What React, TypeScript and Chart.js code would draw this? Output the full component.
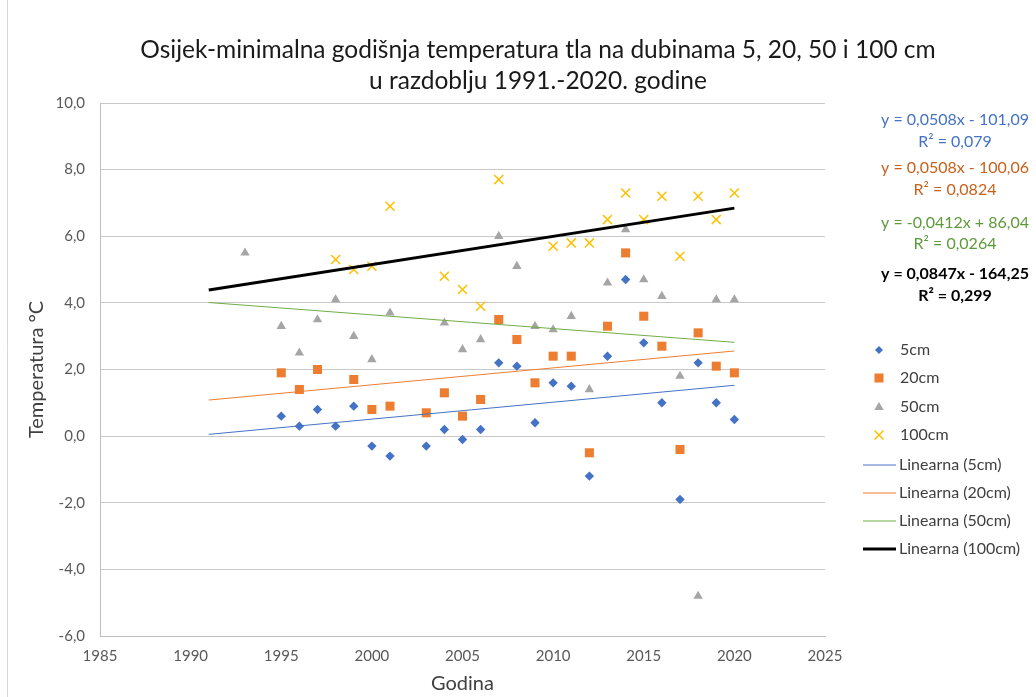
import React, { useEffect, useRef } from 'react';
import { Chart, registerables } from 'chart.js';

Chart.register(...registerables);

const FONT = 'Lato, "Open Sans", sans-serif';

const titleLines = [
  'Osijek-minimalna godišnja temperatura tla na dubinama 5, 20, 50 i 100 cm',
  'u razdoblju 1991.-2020. godine',
];

const years5 = [1995, 1996, 1997, 1998, 1999, 2000, 2001, 2003, 2004, 2005, 2006, 2007, 2008, 2009, 2010, 2011, 2012, 2013, 2014, 2015, 2016, 2017, 2018, 2019, 2020];
const values5 = [0.6, 0.3, 0.8, 0.3, 0.9, -0.3, -0.6, -0.3, 0.2, -0.1, 0.2, 2.2, 2.1, 0.4, 1.6, 1.5, -1.2, 2.4, 4.7, 2.8, 1.0, -1.9, 2.2, 1.0, 0.5];

const years20 = [1995, 1996, 1997, 1999, 2000, 2001, 2003, 2004, 2005, 2006, 2007, 2008, 2009, 2010, 2011, 2012, 2013, 2014, 2015, 2016, 2017, 2018, 2019, 2020];
const values20 = [1.9, 1.4, 2.0, 1.7, 0.8, 0.9, 0.7, 1.3, 0.6, 1.1, 3.5, 2.9, 1.6, 2.4, 2.4, -0.5, 3.3, 5.5, 3.6, 2.7, -0.4, 3.1, 2.1, 1.9];

const years50 = [1993, 1995, 1996, 1997, 1998, 1999, 2000, 2001, 2004, 2005, 2006, 2007, 2008, 2009, 2010, 2011, 2012, 2013, 2014, 2015, 2016, 2017, 2018, 2019, 2020];
const values50 = [5.5, 3.3, 2.5, 3.5, 4.1, 3.0, 2.3, 3.7, 3.4, 2.6, 2.9, 6.0, 5.1, 3.3, 3.2, 3.6, 1.4, 4.6, 6.2, 4.7, 4.2, 1.8, -4.8, 4.1, 4.1];

const years100 = [1998, 1999, 2000, 2001, 2004, 2005, 2006, 2007, 2010, 2011, 2012, 2013, 2014, 2015, 2016, 2017, 2018, 2019, 2020];
const values100 = [5.3, 5.0, 5.1, 6.9, 4.8, 4.4, 3.9, 7.7, 5.7, 5.8, 5.8, 6.5, 7.3, 6.5, 7.2, 5.4, 7.2, 6.5, 7.3];

const seriesNames = ['5cm', '20cm', '50cm', '100cm'];
const trendNames = ['Linearna (5cm)', 'Linearna (20cm)', 'Linearna (50cm)', 'Linearna (100cm)'];
const trendSlopes = [0.0508, 0.0508, -0.0412, 0.0847];
const trendIntercepts = [-101.09, -100.06, 86.04, -164.25];
const trendStart = 1991;
const trendEnd = 2020;
const equationLines = [
  ['y = 0,0508x - 101,09', 'R² = 0,079'],
  ['y = 0,0508x - 100,06', 'R² = 0,0824'],
  ['y = -0,0412x + 86,04', 'R² = 0,0264'],
  ['y = 0,0847x - 164,25', 'R² = 0,299'],
];

const xTicks = { min: 1985, max: 2025, step: 5 };
const yTicks = { min: -6, max: 10, step: 2 };

const markerColors = ['#4472C4', '#ED7D31', '#A5A5A5', '#FFC000'];
const trendColors = ['#4472C4', '#ED7D31', '#70AD47', '#000000'];
const trendWidths = [1, 1, 1, 3];
const eqColors = ['#4472C4', '#C9611B', '#5E9A3A', '#000000'];
const pointStyles = ['rectRot', 'rect', 'triangle', 'crossRot'];
const pointRadii = [4.7, 6.4, 5.4, 6.4];

function drawMarker(ctx: CanvasRenderingContext2D, i: number, x: number, y: number) {
  const c = markerColors[i];
  ctx.save();
  ctx.fillStyle = c;
  ctx.strokeStyle = c;
  if (i === 0) {
    const s = 4;
    ctx.beginPath();
    ctx.moveTo(x - s, y); ctx.lineTo(x, y - s); ctx.lineTo(x + s, y); ctx.lineTo(x, y + s);
    ctx.closePath(); ctx.fill();
  } else if (i === 1) {
    ctx.fillRect(x - 4.5, y - 4.5, 9, 9);
  } else if (i === 2) {
    ctx.beginPath();
    ctx.moveTo(x, y - 5); ctx.lineTo(x + 4.7, y + 3); ctx.lineTo(x - 4.7, y + 3);
    ctx.closePath(); ctx.fill();
  } else {
    ctx.lineWidth = 1.5;
    ctx.beginPath();
    ctx.moveTo(x - 4.5, y - 4.5); ctx.lineTo(x + 4.5, y + 4.5);
    ctx.moveTo(x + 4.5, y - 4.5); ctx.lineTo(x - 4.5, y + 4.5);
    ctx.stroke();
  }
  ctx.restore();
}

const decor = {
  id: 'decor',
  afterDraw(chart: any) {
    const ctx: CanvasRenderingContext2D = chart.ctx;
    ctx.save();
    // outer frame line
    ctx.strokeStyle = '#d9d9d9';
    ctx.lineWidth = 1;
    ctx.beginPath();
    ctx.moveTo(7.5, 0); ctx.lineTo(7.5, 697);
    ctx.stroke();

    // title
    ctx.fillStyle = '#1a1a1a';
    ctx.textAlign = 'center';
    ctx.textBaseline = 'middle';
    ctx.font = `24.5px ${FONT}`;
    ctx.fillText(titleLines[0], 538, 50);
    ctx.fillText(titleLines[1], 538, 81);

    // equations
    const eqY = [[120, 142], [168, 190], [223, 244], [274, 296]];
    equationLines.forEach((lines, i) => {
      ctx.fillStyle = eqColors[i];
      ctx.font = `${i === 3 ? 'bold ' : ''}16px ${FONT}`;
      ctx.fillText(lines[0], 955, eqY[i][0]);
      ctx.fillText(lines[1], 955, eqY[i][1]);
    });

    // legend
    const rows = [350, 378, 407, 435, 465, 493, 521, 549];
    ctx.textAlign = 'left';
    ctx.font = `16px ${FONT}`;
    seriesNames.forEach((n, i) => {
      drawMarker(ctx, i, 879, rows[i]);
      ctx.fillStyle = '#404040';
      ctx.fillText(n, 900, rows[i]);
    });
    trendNames.forEach((n, i) => {
      const y = rows[4 + i];
      ctx.strokeStyle = trendColors[i];
      ctx.lineWidth = trendWidths[i];
      ctx.beginPath();
      ctx.moveTo(863, y); ctx.lineTo(896, y);
      ctx.stroke();
      ctx.fillStyle = '#404040';
      ctx.fillText(n, 899, y);
    });
    ctx.restore();
  },
};

export default function App() {
  const ref = useRef<HTMLCanvasElement>(null);
  useEffect(() => {
    const canvas = ref.current;
    if (!canvas) return;
    const pts = (xs: number[], ys: number[]) => xs.map((x, i) => ({ x, y: ys[i] }));
    const yearsAll = [years5, years20, years50, years100];
    const valuesAll = [values5, values20, values50, values100];
    const scatterSets = seriesNames.map((n, i) => ({
      label: n,
      data: pts(yearsAll[i], valuesAll[i]),
      pointStyle: pointStyles[i],
      pointRadius: pointRadii[i],
      pointBackgroundColor: markerColors[i],
      pointBorderColor: markerColors[i],
      pointBorderWidth: i === 3 ? 1.5 : 0,
      showLine: false,
      order: 2,
    }));
    const trendSets = trendNames.map((n, i) => ({
      label: n,
      data: [trendStart, trendEnd].map((x) => ({ x, y: trendSlopes[i] * x + trendIntercepts[i] })),
      showLine: true,
      borderColor: trendColors[i],
      borderWidth: trendWidths[i],
      pointRadius: 0,
      order: 1,
    }));
    const chart = new Chart(canvas, {
      type: 'scatter',
      data: { datasets: [...scatterSets, ...trendSets] as any },
      options: {
        animation: false,
        responsive: true,
        maintainAspectRatio: false,
        layout: { padding: { top: 103, right: 211, left: 0, bottom: 0 } },
        plugins: {
          legend: { display: false },
          tooltip: { enabled: false },
          title: { display: false },
        },
        scales: {
          x: {
            type: 'linear',
            min: xTicks.min,
            max: xTicks.max,
            ticks: {
              stepSize: xTicks.step,
              callback: (v: any) => String(v),
              color: '#595959',
              font: { family: FONT, size: 15 },
              padding: 11,
              maxRotation: 0,
            },
            grid: { display: false, drawTicks: false },
            border: { display: true, color: '#bfbfbf' },
            title: {
              display: true,
              text: 'Godina',
              color: '#404040',
              font: { family: FONT, size: 20 },
              padding: { top: 0, bottom: 1 },
            },
            afterFit: (s: any) => { s.height = 61; },
          },
          y: {
            type: 'linear',
            min: yTicks.min,
            max: yTicks.max,
            ticks: {
              stepSize: yTicks.step,
              callback: (v: any) => Number(v).toFixed(1).replace('.', ','),
              color: '#595959',
              font: { family: FONT, size: 15 },
              padding: 15,
            },
            grid: { color: '#c8c8c8', drawTicks: false },
            border: { display: true, color: '#bfbfbf' },
            title: {
              display: true,
              text: 'Temperatura °C',
              color: '#404040',
              font: { family: FONT, size: 20 },
              padding: { top: 25, bottom: 0 },
            },
            afterFit: (s: any) => { s.width = 100; },
          },
        },
      } as any,
      plugins: [decor],
    });
    return () => chart.destroy();
  }, []);
  return (
    <div style={{ position: 'fixed', left: 0, top: 0, width: 1036, height: 697, background: '#ffffff' }}>
      <canvas ref={ref} />
    </div>
  );
}
